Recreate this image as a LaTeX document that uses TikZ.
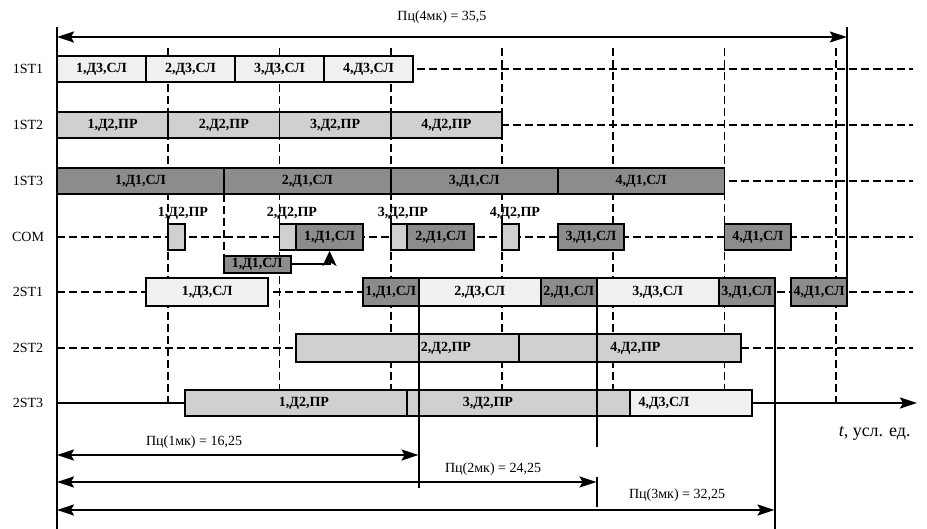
\documentclass[tikz,border=0pt]{standalone}
\usepackage{fontspec}
\setmainfont{Liberation Serif}
\usetikzlibrary{arrows.meta}
\definecolor{dA}{RGB}{140,140,140}
\definecolor{dB}{RGB}{208,208,208}
\definecolor{dC}{RGB}{240,240,240}
% name, t0, t1, y(px), fill, height(px), text
\newcommand\gbox[7]{\node[bx,fill=#5,minimum width={(#3-#2)*22.25pt},minimum height=#6pt] (#1) at ({(#2+#3)/2},#4) {#7};}
\begin{document}
\begin{tikzpicture}[x=22.25pt,y=-1pt,shift={(57pt,0pt)},
  bx/.style={draw,line width=1.9pt,inner sep=0pt,font=\fontsize{14}{16}\selectfont\bfseries},
  blbl/.style={inner sep=0pt,font=\fontsize{14}{16}\selectfont\bfseries},
  rlbl/.style={inner sep=0pt,font=\fontsize{14}{16}\selectfont},
  dsh/.style={line width=1.6pt,dash pattern=on 8pt off 4pt},
  sol/.style={line width=2pt},
  tip/.tip={Stealth[length=17pt,width=11pt,inset=3pt]},
  dbl/.style={sol,tip-tip},
  arr/.style={sol,-tip}]
\useasboundingbox (-57pt,0pt) rectangle (870pt,-529pt);

% dashed grid
\foreach \y in {69,125,181,237,292,348} \draw[dsh] (0,\y) -- (38.47,\y);
\foreach \t in {5,10,15,20,25,30,35} \draw[dsh] (\t,48) -- (\t,403);
\draw[dsh] (7.5,194) -- (7.5,256);

% row labels
\node[rlbl] (l1) at (-1.30,69) {1ST1};
\node[rlbl] (l2) at (-1.30,125) {1ST2};
\node[rlbl] (l3) at (-1.30,181) {1ST3};
\node[rlbl] (l4) at (-1.30,237) {COM};
\node[rlbl] (l5) at (-1.30,292) {2ST1};
\node[rlbl] (l6) at (-1.30,348) {2ST2};
\node[rlbl] (l7) at (-1.30,403) {2ST3};

% 1ST1
\gbox{a1}{0}{4}{69}{dC}{26}{1,Д3,СЛ}
\gbox{a2}{4}{8}{69}{dC}{26}{2,Д3,СЛ}
\gbox{a3}{8}{12}{69}{dC}{26}{3,Д3,СЛ}
\gbox{a4}{12}{16}{69}{dC}{26}{4,Д3,СЛ}
% 1ST2
\gbox{b1}{0}{5}{125}{dB}{26}{1,Д2,ПР}
\gbox{b2}{5}{10}{125}{dB}{26}{2,Д2,ПР}
\gbox{b3}{10}{15}{125}{dB}{26}{3,Д2,ПР}
\gbox{b4}{15}{20}{125}{dB}{26}{4,Д2,ПР}
% 1ST3
\gbox{e1}{0}{7.5}{181}{dA}{26}{1,Д1,СЛ}
\gbox{e2}{7.5}{15}{181}{dA}{26}{2,Д1,СЛ}
\gbox{e3}{15}{22.5}{181}{dA}{26}{3,Д1,СЛ}
\gbox{e4}{22.5}{30}{181}{dA}{26}{4,Д1,СЛ}
% COM
\gbox{c1}{5}{5.75}{237}{dB}{26}{}
\gbox{c2}{10}{10.75}{237}{dB}{26}{}
\gbox{c3}{10.75}{13.75}{237}{dA}{26}{1,Д1,СЛ}
\gbox{c4}{15}{15.75}{237}{dB}{26}{}
\gbox{c5}{15.75}{18.75}{237}{dA}{26}{2,Д1,СЛ}
\gbox{c6}{20}{20.75}{237}{dB}{26}{}
\gbox{c7}{22.5}{25.5}{237}{dA}{26}{3,Д1,СЛ}
\gbox{c8}{30}{33}{237}{dA}{26}{4,Д1,СЛ}
\node[blbl] (k1) at (5.66,213) {1,Д2,ПР};
\node[blbl] (k2) at (10.56,213) {2,Д2,ПР};
\node[blbl] (k3) at (15.55,213) {3,Д2,ПР};
\node[blbl] (k4) at (20.58,213) {4,Д2,ПР};
\gbox{sm}{7.5}{10.5}{264.5}{dA}{17}{1,Д1,СЛ}
\draw[sol,-{Stealth[length=15pt,width=14pt,inset=4pt]}] (sm.east) -| (c3.south);

% 2ST1
\gbox{f1}{4}{9.5}{292}{dC}{28}{1,Д3,СЛ}
\gbox{f2}{13.75}{16.25}{292}{dA}{28}{1,Д1,СЛ}
\gbox{f3}{16.25}{21.75}{292}{dC}{28}{2,Д3,СЛ}
\gbox{f4}{21.75}{24.25}{292}{dA}{28}{2,Д1,СЛ}
\gbox{f5}{24.25}{29.75}{292}{dC}{28}{3,Д3,СЛ}
\gbox{f6}{29.75}{32.25}{292}{dA}{28}{3,Д1,СЛ}
\gbox{f7}{33}{35.5}{292}{dA}{28}{4,Д1,СЛ}
% 2ST2
\gbox{g1}{10.75}{20.75}{348}{dB}{28}{}
\gbox{g2}{20.75}{30.75}{348}{dB}{28}{}
\node[blbl] (gl1) at (17.48,348) {2,Д2,ПР};
\node[blbl] (gl2) at (26.0,348) {4,Д2,ПР};
% 2ST3
\gbox{h1}{5.75}{15.75}{403}{dB}{26}{}
\gbox{h2}{15.75}{25.75}{403}{dB}{26}{}
\gbox{h3}{25.75}{31.25}{403}{dC}{26}{}
\node[blbl] (hl1) at (11.1,403) {1,Д2,ПР};
\node[blbl] (hl2) at (19.37,403) {3,Д2,ПР};
\node[blbl] (hl3) at (27.28,403) {4,Д3,СЛ};
\coordinate (s3o) at (0,403);
\coordinate (s3e) at (38.65,403);
\draw[sol] (s3o) -- (h1.west);
\draw[arr] (h3.east) -- (s3e);
\node[inner sep=0pt,font=\fontsize{18}{20}\selectfont] (tl) at (36.75,433) {\textit{t}, усл. ед.};

% solid verticals
\draw[sol] (0,27) -- (0,529);
\draw[sol] (16.25,278) -- (16.25,488);
\draw[sol] (24.25,278) -- (24.25,447);
\draw[sol] (24.25,477) -- (24.25,507);
\draw[sol] (32.25,278) -- (32.25,529);
\draw[sol] (35.5,27) -- (35.5,306);

% cycle arrows
\coordinate (p4a) at (0,37);   \coordinate (p4b) at (35.5,37);
\coordinate (p1a) at (0,455);  \coordinate (p1b) at (16.25,455);
\coordinate (p2a) at (0,482);  \coordinate (p2b) at (24.25,482);
\coordinate (p3a) at (0,510);  \coordinate (p3b) at (32.25,510);
\draw[dbl] (p4a) -- (p4b);
\draw[dbl] (p1a) -- (p1b);
\draw[dbl] (p2a) -- (p2b);
\draw[dbl] (p3a) -- (p3b);
\node[rlbl] (q4) at (17.3,17) {Пц(4мк) = 35,5};
\node[rlbl] (q1) at (6.16,442) {Пц(1мк) = 16,25};
\node[rlbl] (q2) at (19.6,469) {Пц(2мк) = 24,25};
\node[rlbl] (q3) at (27.87,495) {Пц(3мк) = 32,25};
\end{tikzpicture}
\end{document}
